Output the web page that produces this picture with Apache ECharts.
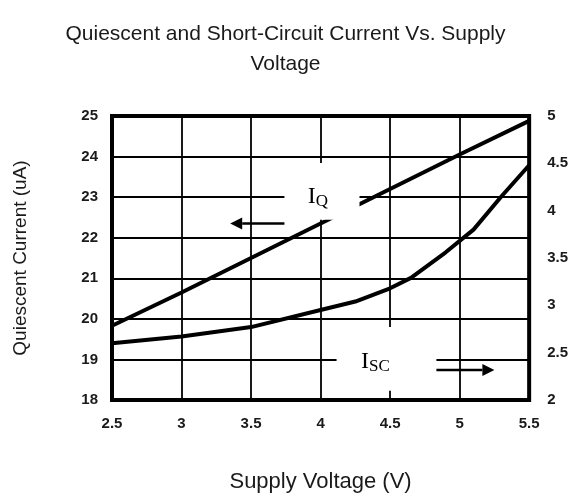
<!DOCTYPE html>
<html>
<head>
<meta charset="utf-8">
<script src="https://cdn.jsdelivr.net/npm/echarts@6/dist/echarts.min.js"></script>
<style>html,body{margin:0;padding:0;background:#fff}#c{width:571px;height:499px}</style>
</head>
<body>
<div id="c"></div>
<script>
// Data
var iqVoltage = [2.5, 3, 3.5, 4, 4.5, 5, 5.5];
var iqCurrent = [19.83, 20.65, 21.5, 22.35, 23.2, 24.05, 24.88];
var iscVoltage = [2.5, 3, 3.5, 4, 4.25, 4.5, 4.65, 4.9, 5.1, 5.3, 5.5];
var iscCurrent = [2.6, 2.67, 2.77, 2.95, 3.04, 3.18, 3.29, 3.56, 3.8, 4.15, 4.48];
var xTicks = ['2.5', '3', '3.5', '4', '4.5', '5', '5.5'];
var leftTicks = ['18', '19', '20', '21', '22', '23', '24', '25'];
var rightTicks = ['2', '2.5', '3', '3.5', '4', '4.5', '5'];

var chart = echarts.init(document.getElementById('c'), null, {renderer: 'canvas'});
var txt = '#1a1a1a';
var sans = 'Liberation Sans, Arial, sans-serif';
var tickFont = {fontFamily: sans, fontSize: 15, color: txt, fontWeight: 'bold'};

function pairs(xs, ys) { return xs.map(function (x, i) { return [x, ys[i]]; }); }

chart.setOption({
  animation: false,
  backgroundColor: '#fff',
  title: {
    text: 'Quiescent and Short-Circuit Current Vs. Supply\nVoltage',
    left: 'center', top: 14,
    textStyle: {fontFamily: sans, fontSize: 21, fontWeight: 'normal', color: txt, lineHeight: 30}
  },
  grid: {left: 112, right: 41, top: 116, bottom: 99, show: true, borderColor: '#000', borderWidth: 4, backgroundColor: 'transparent'},
  xAxis: {
    type: 'value', min: 2.5, max: 5.5, interval: 0.5,
    name: 'Supply Voltage (V)', nameLocation: 'middle', nameGap: 71,
    nameTextStyle: {fontFamily: sans, fontSize: 22, color: txt},
    axisLine: {show: false}, axisTick: {show: false},
    axisLabel: Object.assign({margin: 16, formatter: function (v) { var s = String(Math.round(v * 10) / 10); return xTicks.indexOf(s) >= 0 ? s : ''; }}, tickFont),
    splitLine: {show: true, lineStyle: {color: '#000', width: 1.8}}
  },
  yAxis: [{
    type: 'value', min: 18, max: 25, interval: 1,
    name: 'Quiescent Current (uA)', nameLocation: 'middle', nameGap: 82,
    nameTextStyle: {fontFamily: sans, fontSize: 19, color: txt},
    axisLine: {show: false}, axisTick: {show: false},
    axisLabel: Object.assign({margin: 14, formatter: function (v) { var s = String(v); return leftTicks.indexOf(s) >= 0 ? s : ''; }}, tickFont),
    splitLine: {show: true, lineStyle: {color: '#000', width: 1.8}}
  }, {
    type: 'value', min: 2, max: 5, interval: 0.5, position: 'right',
    axisLine: {show: false}, axisTick: {show: false},
    axisLabel: Object.assign({margin: 18, formatter: function (v) { var s = String(v); return rightTicks.indexOf(s) >= 0 ? s : ''; }}, tickFont),
    splitLine: {show: false}
  }],
  series: [{
    name: 'IQ', type: 'line', yAxisIndex: 0, data: pairs(iqVoltage, iqCurrent),
    showSymbol: false, lineStyle: {color: '#000', width: 4}, z: 3
  }, {
    name: 'ISC', type: 'line', yAxisIndex: 1, data: pairs(iscVoltage, iscCurrent),
    showSymbol: false, lineStyle: {color: '#000', width: 4}, z: 3
  }]
});

// Annotations defined in data coordinates (voltage, left-axis current)
function P(v, y) { return chart.convertToPixel({xAxisIndex: 0, yAxisIndex: 0}, [v, y]); }
function rectFrom(a, b) {
  var p1 = P(a[0], a[1]), p2 = P(b[0], b[1]);
  return {x: Math.min(p1[0], p2[0]), y: Math.min(p1[1], p2[1]), width: Math.abs(p2[0] - p1[0]), height: Math.abs(p2[1] - p1[1])};
}
function arrow(from, to) {
  var a = P(from[0], from[1]), b = P(to[0], to[1]);
  var dir = b[0] > a[0] ? 1 : -1;
  var head = 12, half = 6;
  return [{
    type: 'line', z: 101, shape: {x1: a[0], y1: a[1], x2: b[0] - dir * head, y2: b[1]},
    style: {stroke: '#000', lineWidth: 2.5}
  }, {
    type: 'polygon', z: 101,
    shape: {points: [[b[0], b[1]], [b[0] - dir * head, b[1] - half], [b[0] - dir * head, b[1] + half]]},
    style: {fill: '#000'}
  }];
}
var iqBox = rectFrom([3.74, 23.84], [4.28, 22.44]);
var iscBox = rectFrom([4.115, 19.8], [4.833, 18.23]);
var iqLab = P(3.98, 23.0), iscLab = P(4.395, 18.94);
var rich = {
  I: {fontFamily: 'Liberation Serif, Times New Roman, serif', fontSize: 24, fill: '#000'},
  s: {fontFamily: 'Liberation Serif, Times New Roman, serif', fontSize: 17, fill: '#000', padding: [9, 0, 0, 0]}
};
var g = [
  {type: 'rect', z: 100, shape: iqBox, style: {fill: '#fff'}},
  {type: 'rect', z: 100, shape: iscBox, style: {fill: '#fff'}},
  {type: 'text', z: 102, x: iqLab[0], y: iqLab[1], style: {text: '{I|I}{s|Q}', rich: rich, align: 'center', verticalAlign: 'middle'}},
  {type: 'text', z: 102, x: iscLab[0], y: iscLab[1], style: {text: '{I|I}{s|SC}', rich: rich, align: 'center', verticalAlign: 'middle'}}
].concat(arrow([3.74, 22.35], [3.35, 22.35])).concat(arrow([4.833, 18.74], [5.25, 18.74]));
chart.setOption({graphic: {elements: g}});
</script>
</body>
</html>
